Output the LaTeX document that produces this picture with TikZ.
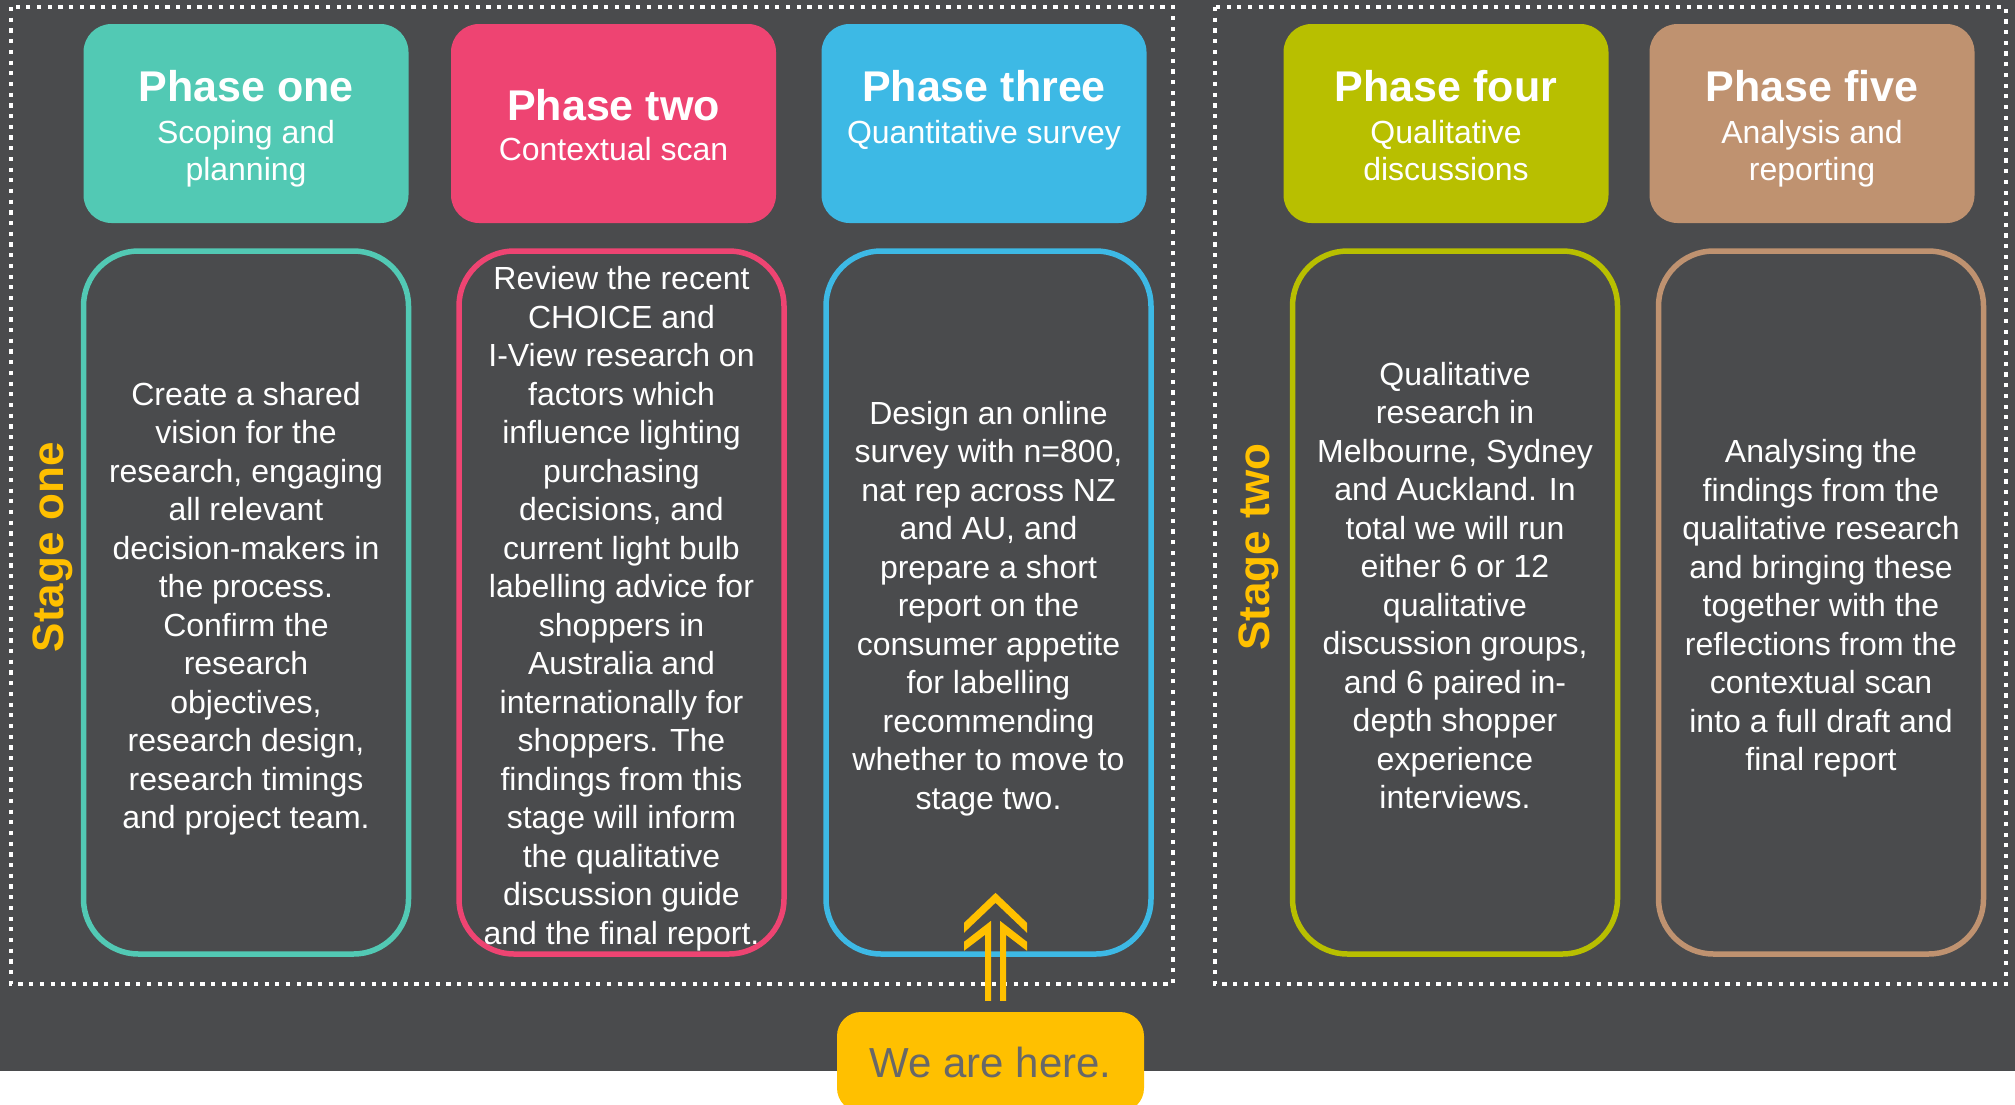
\documentclass[tikz,border=0pt]{standalone}
\usepackage{fontspec}
\setmainfont{Liberation Sans}
\usetikzlibrary{calc}

\definecolor{bgdark}{HTML}{4A4B4D}
\definecolor{phteal}{HTML}{52C9B4}
\definecolor{phpink}{HTML}{EE4472}
\definecolor{phblue}{HTML}{3DB9E5}
\definecolor{pholive}{HTML}{B8BF00}
\definecolor{phbrown}{HTML}{BF9270}
\definecolor{gold}{HTML}{FFC000}
\definecolor{heretext}{HTML}{686868}

\begin{document}
\begin{tikzpicture}[x=1pt,y=-1pt,
  phasehead/.style={rectangle, rounded corners=28pt, inner sep=0pt,
    minimum width=325pt, minimum height=199pt, fill=#1},
  phasebody/.style={rectangle, rounded corners=55pt, inner sep=0pt,
    minimum width=325pt, minimum height=703pt, draw=#1, line width=5.5pt},
  phasetitle/.style={anchor=base, inner sep=0pt, text=white,
    font=\bfseries\fontsize{43}{50}\selectfont},
  phasesub/.style={anchor=north, inner sep=0pt, text=white, align=center,
    font=\fontsize{32}{37}\selectfont},
  bodytext/.style={inner sep=0pt, text=white, align=center,
    font=\fontsize{32}{38.5}\selectfont},
  stagelabel/.style={rotate=90, inner sep=0pt, text=gold,
    font=\bfseries\fontsize{44}{50}\selectfont},
  dotframe/.style={draw=white, line width=4.2pt, dash pattern=on 4.2pt off 6.5pt},
  herebox/.style={rectangle, rounded corners=24pt, fill=gold, inner sep=0pt,
    minimum width=307pt, minimum height=100pt, text=heretext,
    font=\fontsize{42}{48}\selectfont},
  pointer/.style={fill=gold, draw=none}
]
\useasboundingbox (0,0) rectangle (2015,1104);
\begin{scope}
\clip (0,0) rectangle (2015,1104);

% page and dark panel
\fill[white] (0,0) rectangle (2015,1104);
\fill[bgdark] (0,0) rectangle (2015,1071);

% stage frames
\draw[dotframe] (11,7) rectangle (1173,984);
\draw[dotframe] (1215,7) rectangle (2006,984);

% stage labels
\node[stagelabel] (stage1) at (53,547) {Stage one};
\node[stagelabel] (stage2) at (1259,547) {Stage two};

% phase headers
\node[phasehead=phteal]  (h1) at (246,123.5)  {};
\node[phasehead=phpink]  (h2) at (613.5,123.5) {};
\node[phasehead=phblue]  (h3) at (984,123.5)  {};
\node[phasehead=pholive] (h4) at (1446,123.5) {};
\node[phasehead=phbrown] (h5) at (1812,123.5) {};

\node[phasetitle] (t1) at (246,101)  {Phase one};
\node[phasesub]   (s1) at (246,120)  {Scoping and\\planning};
\node[phasetitle] (t2) at (613.5,120) {Phase two};
\node[phasesub]   (s2) at (613.5,137) {Contextual scan};
\node[phasetitle] (t3) at (984,101)  {Phase three};
\node[phasesub]   (s3) at (984,120)  {Quantitative survey};
\node[phasetitle] (t4) at (1446,101) {Phase four};
\node[phasesub]   (s4) at (1446,120) {Qualitative\\discussions};
\node[phasetitle] (t5) at (1812,101) {Phase five};
\node[phasesub]   (s5) at (1812,120) {Analysis and\\reporting};

% phase bodies
\node[phasebody=phteal]  (b1) at (246,602.5)   {};
\node[phasebody=phpink]  (b2) at (621.5,602.5) {};
\node[phasebody=phblue]  (b3) at (988.5,602.5) {};
\node[phasebody=pholive] (b4) at (1455,602.5)  {};
\node[phasebody=phbrown] (b5) at (1821,602.5)  {};

\node[bodytext] (d1) at ($(b1.center)+(0,6)$) {Create a shared\\vision for the\\research, engaging\\all relevant\\decision-makers in\\the process.\\Confirm the\\research\\objectives,\\research design,\\research timings\\and project team.};
\node[bodytext] (d2) at ($(b2.center)+(0,6)$) {Review the recent\\CHOICE and\\I-View research on\\factors which\\influence lighting\\purchasing\\decisions, and\\current light bulb\\labelling advice for\\shoppers in\\Australia and\\internationally for\\shoppers. The\\findings from this\\stage will inform\\the qualitative\\discussion guide\\and the final report.};
\node[bodytext] (d3) at ($(b3.center)+(0,6)$) {Design an online\\survey with n=800,\\nat rep across NZ\\and AU, and\\prepare a short\\report on the\\consumer appetite\\for labelling\\recommending\\whether to move to\\stage two.};
\node[bodytext] (d4) at ($(b4.center)+(0,-17)$) {Qualitative\\research in\\Melbourne, Sydney\\and Auckland. In\\total we will run\\either 6 or 12\\qualitative\\discussion groups,\\and 6 paired in-\\depth shopper\\experience\\interviews.};
\node[bodytext] (d5) at ($(b5.center)+(0,6)$) {Analysing the\\findings from the\\qualitative research\\and bringing these\\together with the\\reflections from the\\contextual scan\\into a full draft and\\final report};

% current position marker
\node[herebox] (here) at (990.5,1062) {We are here.};
\coordinate (arrowbase) at ($(here.north)+(5,-11)$);
\begin{scope}[shift={(arrowbase)}]
  \fill[pointer] (-31.5,-78) -- (0,-108) -- (31.5,-78) -- (31.5,-68) -- (0,-98) -- (-31.5,-68) -- cycle;
  \fill[pointer] (-4.5,0) -- (-4.5,-80) -- (-31.5,-59) -- (-31.5,-50) -- (-10.5,-66) -- (-10.5,0) -- cycle;
  \fill[pointer] (4.5,0) -- (4.5,-80) -- (31.5,-59) -- (31.5,-50) -- (10.5,-66) -- (10.5,0) -- cycle;
\end{scope}
\end{scope}
\end{tikzpicture}
\end{document}
